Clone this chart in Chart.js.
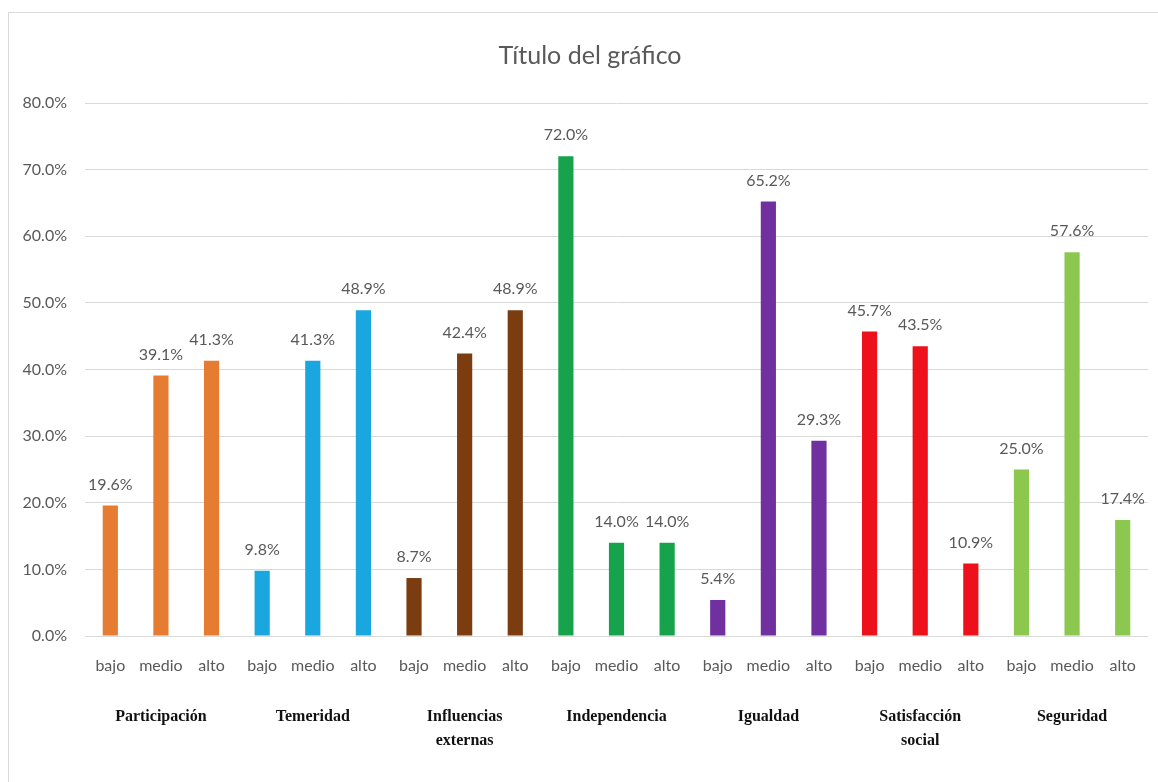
<!DOCTYPE html>
<html>
<head>
<meta charset="utf-8">
<script src="https://cdn.jsdelivr.net/npm/chart.js@4.4.0/dist/chart.umd.min.js"></script>
<style>
  html, body { margin: 0; padding: 0; background: #fff; overflow: hidden; }
  #frame { position: absolute; left: 8px; top: 12px; width: 1170px; height: 800px; border: 1px solid #d9d9d9; }
  #chart { position: absolute; left: 0; top: 0; }
</style>
</head>
<body>
<div id="frame"></div>
<canvas id="chart" width="1158" height="782"></canvas>
<script>
// ==================== DATA ====================
const groups = ['Participación', 'Temeridad', ['Influencias', 'externas'], 'Independencia', 'Igualdad', ['Satisfacción', 'social'], 'Seguridad'];
const levels = ['bajo', 'medio', 'alto'];
const bajo  = [19.6,  9.8,  8.7, 72.0,  5.4, 45.7, 25.0];
const medio = [39.1, 41.3, 42.4, 14.0, 65.2, 43.5, 57.6];
const alto  = [41.3, 48.9, 48.9, 14.0, 29.3, 10.9, 17.4];
const groupColors = ['#E67C32', '#1AA6DE', '#7B3D10', '#16A34C', '#7030A0', '#EC111A', '#8CC84F'];
const yTicks = [0, 10, 20, 30, 40, 50, 60, 70, 80];

// flatten into one bar per category
const labels = [];
const values = [];
const colors = [];
groups.forEach((g, i) => {
  [bajo[i], medio[i], alto[i]].forEach((v, j) => {
    labels.push(levels[j]);
    values.push(v);
    colors.push(groupColors[i]);
  });
});

// value labels above each bar
const valueLabels = {
  id: 'valueLabels',
  afterLayout(chart) {
    // title sits a bit right of the plot centre, like the original
    if (chart.titleBlock) chart.titleBlock.left += 32;
  },
  afterDatasetsDraw(chart) {
    const ctx = chart.ctx;
    const meta = chart.getDatasetMeta(0);
    ctx.save();
    ctx.font = '16px Lato';
    ctx.fillStyle = '#595959';
    ctx.textAlign = 'center';
    ctx.textBaseline = 'middle';
    meta.data.forEach((bar, i) => {
      ctx.fillText(values[i].toFixed(1) + '%', bar.x, bar.y - 21);
    });
    ctx.restore();
  }
};

new Chart(document.getElementById('chart'), {
  type: 'bar',
  data: {
    labels: labels,
    datasets: [{
      data: values,
      backgroundColor: colors,
      borderWidth: 0,
      categoryPercentage: 1,
      barPercentage: 0.3,
      xAxisID: 'x'
    }]
  },
  options: {
    responsive: false,
    animation: false,
    devicePixelRatio: 1,
    layout: { padding: { left: 0, right: 10, top: 0, bottom: 0 } },
    plugins: {
      legend: { display: false },
      tooltip: { enabled: false },
      title: {
        display: true,
        text: 'Título del gráfico',
        color: '#595959',
        font: { family: 'Lato', size: 25, weight: 'normal' },
        padding: { top: 41, bottom: 32 }
      }
    },
    scales: {
      y: {
        min: 0,
        max: 80,
        afterBuildTicks: scale => { scale.ticks = yTicks.map(v => ({ value: v })); },
        afterFit: scale => { scale.width = 85; },
        border: { display: false },
        grid: { color: '#d9d9d9', lineWidth: 1, drawTicks: false },
        ticks: {
          padding: 18,
          color: '#595959',
          font: { family: 'Lato', size: 16 },
          callback: v => v.toFixed(1) + '%'
        }
      },
      x: {
        position: 'bottom',
        weight: 1,
        afterFit: scale => { scale.height = 46; },
        border: { display: false },
        grid: { display: false, drawTicks: false },
        ticks: {
          padding: 20,
          color: '#595959',
          font: { family: 'Lato', size: 16 },
          maxRotation: 0,
          autoSkip: false
        }
      },
      groups: {
        type: 'category',
        position: 'bottom',
        weight: 2,
        labels: groups,
        offset: true,
        afterFit: scale => { scale.height = 100; },
        border: { display: false },
        grid: { display: false, drawTicks: false },
        ticks: {
          padding: 23,
          color: '#111',
          font: { family: 'Liberation Serif', size: 16, weight: 'bold', lineHeight: 1.5 },
          maxRotation: 0,
          autoSkip: false
        }
      }
    }
  },
  plugins: [valueLabels]
});
</script>
</body>
</html>
